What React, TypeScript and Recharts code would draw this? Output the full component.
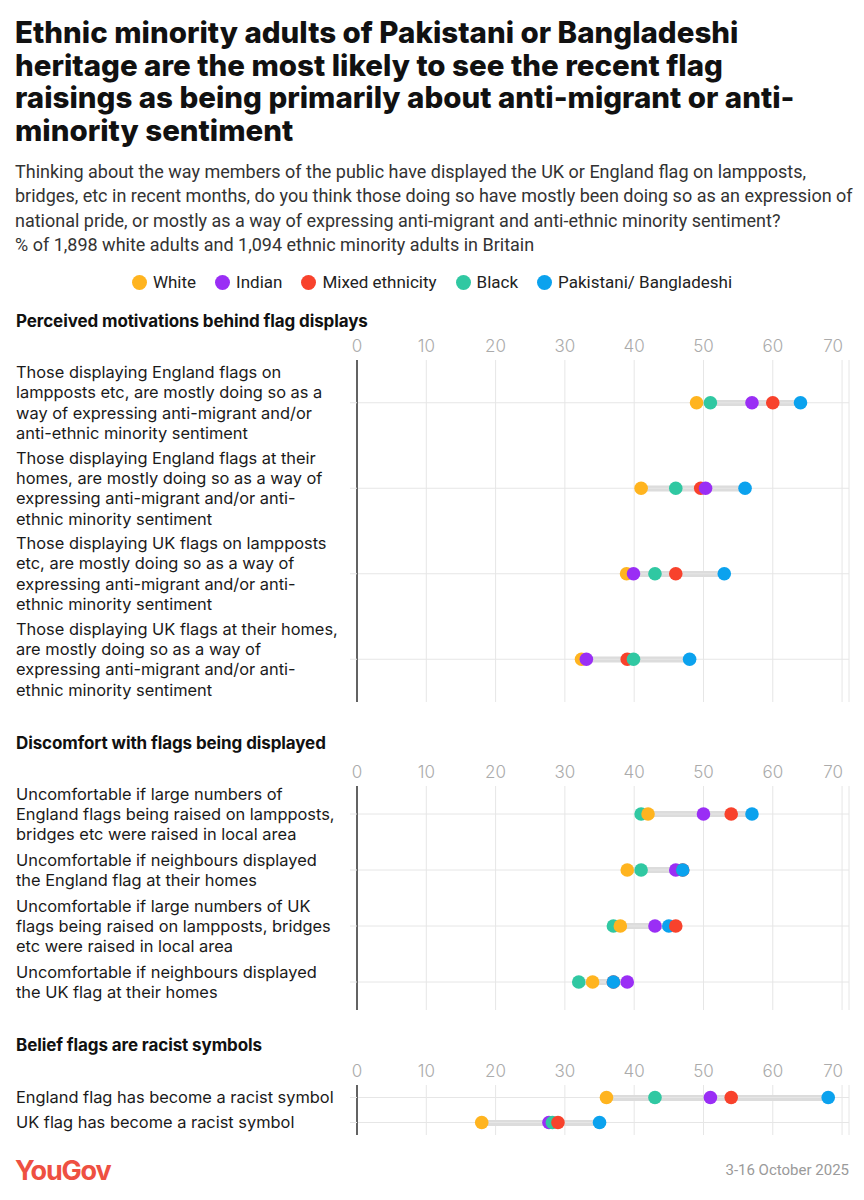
import React from 'react';
import {
  ComposedChart,
  Bar,
  Line,
  XAxis,
  YAxis,
  CartesianGrid,
  ReferenceLine,
} from 'recharts';

const groups = ['White', 'Indian', 'Mixed ethnicity', 'Black', 'Pakistani/ Bangladeshi'];
const groupColors = ['#FFB41F', '#9A2EF5', '#F8422C', '#30C8A2', '#0BA2EE'];

const xTicks = [0, 10, 20, 30, 40, 50, 60, 70];

// Perceived motivations behind flag displays
const motivationLabels = [
  'Those displaying England flags on\nlampposts etc, are mostly doing so as a\nway of expressing anti-migrant and/or\nanti-ethnic minority sentiment',
  'Those displaying England flags at their\nhomes, are mostly doing so as a way of\nexpressing anti-migrant and/or anti-\nethnic minority sentiment',
  'Those displaying UK flags on lampposts\netc, are mostly doing so as a way of\nexpressing anti-migrant and/or anti-\nethnic minority sentiment',
  'Those displaying UK flags at their homes,\nare mostly doing so as a way of\nexpressing anti-migrant and/or anti-\nethnic minority sentiment',
];
const motivationWhite = [49, 41, 38.9, 32.4];
const motivationIndian = [57, 50.3, 39.9, 33.1];
const motivationMixed = [60, 49.6, 46, 39];
const motivationBlack = [51, 46, 43, 39.9];
const motivationPak = [64, 56, 53, 48];

// Discomfort with flags being displayed
const discomfortLabels = [
  'Uncomfortable if large numbers of\nEngland flags being raised on lampposts,\nbridges etc were raised in local area',
  'Uncomfortable if neighbours displayed\nthe England flag at their homes',
  'Uncomfortable if large numbers of UK\nflags being raised on lampposts, bridges\netc were raised in local area',
  'Uncomfortable if neighbours displayed\nthe UK flag at their homes',
];
const discomfortWhite = [42, 39, 38, 34];
const discomfortIndian = [50, 46, 43, 39];
const discomfortMixed = [54, 47, 46, 37];
const discomfortBlack = [41, 41, 37, 32];
const discomfortPak = [57, 47, 45, 37];

// Belief flags are racist symbols
const racistLabels = ['England flag has become a racist symbol', 'UK flag has become a racist symbol'];
const racistWhite = [36, 18];
const racistIndian = [51, 27.7];
const racistMixed = [54, 29];
const racistBlack = [43, 28.2];
const racistPak = [68, 35];

const FONT = 'Inter, "Noto Sans", sans-serif';
const NARROW = 'Roboto, sans-serif';

// dots are drawn lowest value first so the higher one sits on top
function buildRows(labels: string[], series: number[][]) {
  return labels.map((label, i) => {
    const pts = series.map((s, g) => ({ v: s[i], g })).sort((a, b) => a.v - b.v);
    const row: any = { label, range: [pts[0].v, pts[pts.length - 1].v] };
    pts.forEach((p, k) => {
      row[`v${k}`] = p.v;
      row[`g${k}`] = p.g;
    });
    return row;
  });
}

const motivationRows = buildRows(motivationLabels, [
  motivationWhite, motivationIndian, motivationMixed, motivationBlack, motivationPak,
]);
const discomfortRows = buildRows(discomfortLabels, [
  discomfortWhite, discomfortIndian, discomfortMixed, discomfortBlack, discomfortPak,
]);
const racistRows = buildRows(racistLabels, [
  racistWhite, racistIndian, racistMixed, racistBlack, racistPak,
]);

const LabelTick = (props: any) => {
  const { y, payload } = props;
  const lines = String(payload.value).split('\n');
  const lh = 20.3;
  return (
    <text x={16} y={y} fontFamily={FONT} fontSize={16.4} fill="#1a1a1a">
      {lines.map((l, i) => (
        <tspan key={i} x={16} dy={i === 0 ? -((lines.length - 1) / 2) * lh + 5.8 : lh}>
          {l}
        </tspan>
      ))}
    </text>
  );
};

const ValueTick = (props: any) => {
  const { x, y, payload } = props;
  const last = payload.value === xTicks[xTicks.length - 1];
  return (
    <text
      x={last ? x + 1 : x}
      y={y}
      textAnchor={last ? 'end' : 'middle'}
      fontFamily={FONT}
      fontWeight={300}
      fontSize={17}
      fill="#ababab"
    >
      {payload.value}
    </text>
  );
};

const Panel: React.FC<{ rows: any[]; plotTop: number; plotHeight: number }> = ({ rows, plotTop, plotHeight }) => {
  const axisH = 30;
  return (
    <div style={{ position: 'absolute', left: 0, top: plotTop - axisH }}>
      <ComposedChart
        width={864}
        height={plotHeight + axisH + 2}
        data={rows}
        layout="vertical"
        margin={{ top: 0, right: 15, bottom: 2, left: 16 }}
      >
        <CartesianGrid horizontal={false} stroke="#e6e6e6" />
        {rows.map(r => (
          <ReferenceLine key={r.label} y={r.label} stroke="#e6e6e6" />
        ))}
        <XAxis
          type="number"
          orientation="top"
          domain={[0, 71]}
          ticks={xTicks}
          height={axisH}
          axisLine={false}
          tickLine={false}
          tickSize={0}
          tickMargin={8}
          tick={<ValueTick />}
        />
        <YAxis
          type="category"
          dataKey="label"
          width={341}
          axisLine={{ stroke: '#333', strokeWidth: 1.5 }}
          tickLine={{ stroke: '#e6e6e6' }}
          tickSize={7}
          tick={<LabelTick />}
          interval={0}
        />
        <Bar dataKey="range" barSize={6} fill="#dcdcdc" isAnimationActive={false} />
        {[0, 1, 2, 3, 4].map(k => (
          <Line
            key={k}
            dataKey={`v${k}`}
            stroke="none"
            legendType="none"
            activeDot={false}
            isAnimationActive={false}
            dot={(p: any) => (
              <circle
                key={`d${k}-${p.index}`}
                cx={p.cx}
                cy={p.cy}
                r={6.8}
                fill={groupColors[p.payload[`g${k}`]]}
              />
            )}
          />
        ))}
      </ComposedChart>
    </div>
  );
};

const header: React.CSSProperties = {
  position: 'absolute',
  left: 16,
  fontFamily: FONT,
  fontWeight: 700,
  fontSize: 17,
  letterSpacing: -0.1,
  lineHeight: '20px',
  color: '#111',
};

export default function App() {
  return (
    <div
      style={{
        position: 'relative',
        width: 864,
        height: 1200,
        margin: -8,
        background: '#fff',
        overflow: 'hidden',
      }}
    >
      <div
        style={{
          position: 'absolute',
          left: 15,
          top: 16,
          fontFamily: FONT,
          fontWeight: 800,
          fontSize: 29.5,
          lineHeight: '32.7px',
          letterSpacing: 0,
          color: '#111',
          whiteSpace: 'nowrap',
        }}
      >
        <div>Ethnic minority adults of Pakistani or Bangladeshi</div>
        <div>heritage are the most likely to see the recent flag</div>
        <div>raisings as being primarily about anti-migrant or anti-</div>
        <div>minority sentiment</div>
      </div>
      <div
        style={{
          position: 'absolute',
          left: 15,
          top: 160,
          fontFamily: NARROW,
          fontSize: 18,
          lineHeight: '24.3px',
          color: '#333',
          whiteSpace: 'nowrap',
        }}
      >
        <div>Thinking about the way members of the public have displayed the UK or England flag on lampposts,</div>
        <div>bridges, etc in recent months, do you think those doing so have mostly been doing so as an expression of</div>
        <div>national pride, or mostly as a way of expressing anti-migrant and anti-ethnic minority sentiment?</div>
        <div>% of 1,898 white adults and 1,094 ethnic minority adults in Britain</div>
      </div>
      <div
        style={{
          position: 'absolute',
          left: 0,
          width: 864,
          top: 272,
          display: 'flex',
          justifyContent: 'center',
          gap: 19,
          fontFamily: NARROW,
          fontSize: 17,
          lineHeight: '20px',
          color: '#222',
        }}
      >
        {groups.map((g, i) => (
          <div key={g} style={{ display: 'flex', alignItems: 'center', gap: 6 }}>
            <span
              style={{ width: 15, height: 15, borderRadius: '50%', background: groupColors[i], display: 'inline-block' }}
            />
            <span>{g}</span>
          </div>
        ))}
      </div>

      <div style={{ ...header, top: 311 }}>Perceived motivations behind flag displays</div>
      <Panel rows={motivationRows} plotTop={360} plotHeight={342} />

      <div style={{ ...header, top: 733 }}>Discomfort with flags being displayed</div>
      <Panel rows={discomfortRows} plotTop={786} plotHeight={224} />

      <div style={{ ...header, top: 1035 }}>Belief flags are racist symbols</div>
      <Panel rows={racistRows} plotTop={1084.5} plotHeight={50} />

      <div
        style={{
          position: 'absolute',
          left: 15,
          top: 1154,
          fontFamily: FONT,
          fontWeight: 700,
          fontSize: 27,
          letterSpacing: -1.2,
          color: '#EE5042',
        }}
      >
        YouGov
      </div>
      <div
        style={{
          position: 'absolute',
          right: 15,
          top: 1161,
          fontFamily: NARROW,
          fontSize: 15,
          color: '#9a9a9a',
        }}
      >
        3-16 October 2025
      </div>
    </div>
  );
}
